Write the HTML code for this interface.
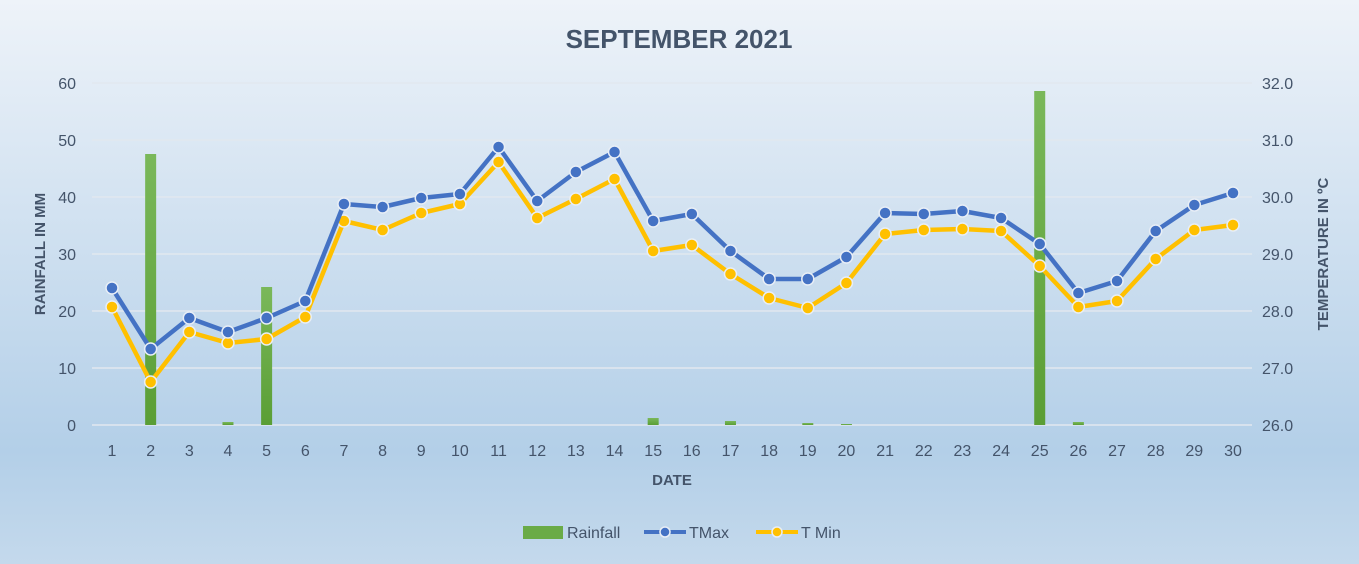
<!DOCTYPE html>
<html><head><meta charset="utf-8"><style>
html,body{margin:0;padding:0;width:1359px;height:564px;overflow:hidden}
svg{display:block;font-family:"Liberation Sans",sans-serif}
</style></head><body>
<svg id="s" width="1359" height="564" viewBox="0 0 1359 564">
<defs><linearGradient id="bg" x1="0" y1="0" x2="0" y2="1">
<stop offset="0" stop-color="#eef3f9"/><stop offset="0.8" stop-color="#b3cfe8"/><stop offset="1" stop-color="#c4d9ec"/></linearGradient>
<linearGradient id="bar" x1="0" y1="0" x2="0" y2="1"><stop offset="0" stop-color="#7ab85a"/><stop offset="1" stop-color="#5a9e35"/></linearGradient></defs>
<rect width="1359" height="564" fill="url(#bg)"/>
<text x="679" y="48" text-anchor="middle" font-size="26" font-weight="bold" fill="#44546a">SEPTEMBER 2021</text>
<g stroke="#e2e8ef" stroke-width="1.5">
<line x1="92" x2="1252" y1="83" y2="83"/><line x1="92" x2="1252" y1="140" y2="140"/><line x1="92" x2="1252" y1="197" y2="197"/><line x1="92" x2="1252" y1="254" y2="254"/><line x1="92" x2="1252" y1="311" y2="311"/><line x1="92" x2="1252" y1="368" y2="368"/><line x1="92" x2="1252" y1="425" y2="425"/></g>
<g font-size="16" fill="#44546a" text-anchor="end">
<text x="76" y="89">60</text><text x="76" y="146">50</text><text x="76" y="203">40</text><text x="76" y="260">30</text><text x="76" y="317">20</text><text x="76" y="374">10</text><text x="76" y="431">0</text></g>
<g font-size="16" fill="#44546a" text-anchor="start">
<text x="1262" y="89">32.0</text><text x="1262" y="146">31.0</text><text x="1262" y="203">30.0</text><text x="1262" y="260">29.0</text><text x="1262" y="317">28.0</text><text x="1262" y="374">27.0</text><text x="1262" y="431">26.0</text></g>
<g font-size="16" fill="#44546a" text-anchor="middle">
<text x="112" y="456">1</text><text x="150.7" y="456">2</text><text x="189.3" y="456">3</text><text x="228" y="456">4</text><text x="266.6" y="456">5</text><text x="305.3" y="456">6</text><text x="343.9" y="456">7</text><text x="382.6" y="456">8</text><text x="421.2" y="456">9</text><text x="459.9" y="456">10</text><text x="498.6" y="456">11</text><text x="537.2" y="456">12</text><text x="575.9" y="456">13</text><text x="614.5" y="456">14</text><text x="653.2" y="456">15</text><text x="691.8" y="456">16</text><text x="730.5" y="456">17</text><text x="769.1" y="456">18</text><text x="807.8" y="456">19</text><text x="846.4" y="456">20</text><text x="885.1" y="456">21</text><text x="923.8" y="456">22</text><text x="962.4" y="456">23</text><text x="1001.1" y="456">24</text><text x="1039.7" y="456">25</text><text x="1078.4" y="456">26</text><text x="1117" y="456">27</text><text x="1155.7" y="456">28</text><text x="1194.3" y="456">29</text><text x="1233" y="456">30</text></g>
<text x="672" y="485" text-anchor="middle" font-size="15" font-weight="bold" fill="#44546a">DATE</text>
<text transform="translate(45,254) rotate(-90)" text-anchor="middle" font-size="15" font-weight="bold" fill="#44546a">RAINFALL IN MM</text>
<text transform="translate(1328,254) rotate(-90)" text-anchor="middle" font-size="15" font-weight="bold" fill="#44546a">TEMPERATURE IN ºC</text>
<g id="bars" fill="url(#bar)"></g>
<g id="lines"></g>
<g font-size="16" fill="#44546a">
<rect x="523" y="526" width="40" height="13" fill="#6aab47"/><text x="567" y="538">Rainfall</text>
<line x1="644" y1="532" x2="686" y2="532" stroke="#4472c4" stroke-width="4"/><circle cx="665" cy="532" r="5" fill="#4472c4" stroke="#e8eef6" stroke-width="1.5"/><text x="689" y="538">TMax</text>
<line x1="756" y1="532" x2="798" y2="532" stroke="#ffc000" stroke-width="4"/><circle cx="777" cy="532" r="5" fill="#ffc000" stroke="#e8eef6" stroke-width="1.5"/><text x="801" y="538">T Min</text>
</g>
</svg>
<script>
var xs=[];for(var i=0;i<30;i++)xs.push(112+i*38.655);
var tmax=[288,349,318,332,318,301,204,207,198,194,147,201,172,152,221,214,251,279,279,257,213,214,211,218,244,293,281,231,205,193];
var tmin=[307,382,332,343,339,317,221,230,213,204,162,218,199,179,251,245,274,298,308,283,234,230,229,231,266,307,301,259,230,225];
var bars={2:154,4:422,5:287,15:418,17:421,19:423,20:424,25:91,26:422};
var ns="http://www.w3.org/2000/svg";
function el(t,a,p){var e=document.createElementNS(ns,t);for(var k in a)e.setAttribute(k,a[k]);p.appendChild(e);return e;}
var bg=document.getElementById("bars"),lg=document.getElementById("lines");
for(var k in bars){el("rect",{x:xs[k-1]-5.5,y:bars[k],width:11,height:425-bars[k]},bg);}
[[tmin,"#ffc000"],[tmax,"#4472c4"]].forEach(function(s){
var pts=s[0].map(function(y,i){return xs[i]+","+y}).join(" ");
el("polyline",{points:pts,fill:"none",stroke:s[1],"stroke-width":4.5,"stroke-linejoin":"round"},lg);
s[0].forEach(function(y,i){el("circle",{cx:xs[i],cy:y,r:6,fill:s[1],stroke:"#e8eef6","stroke-width":1.5},lg);});
});
</script>
</body></html>
